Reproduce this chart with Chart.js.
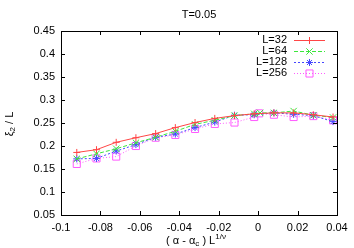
<!DOCTYPE html>
<html>
<head>
<meta charset="utf-8">
<script src="https://cdn.jsdelivr.net/npm/chart.js@4"></script>
<style>
  html, body { margin: 0; padding: 0; background: #fff; }
  #wrap { width: 354px; height: 248px; }
</style>
</head>
<body>
<div id="wrap"><canvas id="chart" width="354" height="248"></canvas></div>
<script>
// valeurs
const xL32 = [-0.092, -0.082, -0.072, -0.062, -0.052, -0.042, -0.032, -0.022, -0.012, -0.002, 0.008, 0.018, 0.028, 0.038];
const yL32 = [0.186, 0.192, 0.208, 0.218, 0.227, 0.240, 0.251, 0.260, 0.266, 0.270, 0.272, 0.272, 0.268, 0.263];
const xL64 = [-0.092, -0.082, -0.072, -0.062, -0.052, -0.042, -0.032, -0.022, -0.012, -0.002, 0.001, 0.008, 0.018, 0.028, 0.038];
const yL64 = [0.172, 0.183, 0.194, 0.207, 0.219, 0.232, 0.247, 0.256, 0.266, 0.270, 0.272, 0.272, 0.276, 0.267, 0.262];
const xL128 = [-0.092, -0.082, -0.072, -0.062, -0.052, -0.042, -0.032, -0.022, -0.012, -0.002, 0.008, 0.018, 0.028, 0.038];
const yL128 = [0.172, 0.173, 0.189, 0.203, 0.219, 0.226, 0.240, 0.252, 0.267, 0.268, 0.272, 0.269, 0.266, 0.253];
const xL256 = [-0.092, -0.082, -0.072, -0.062, -0.052, -0.042, -0.032, -0.022, -0.012, -0.002, 0.0005, 0.008, 0.018, 0.028, 0.038];
const yL256 = [0.161, 0.173, 0.177, 0.200, 0.218, 0.224, 0.237, 0.248, 0.251, 0.263, 0.271, 0.268, 0.263, 0.265, 0.256];

const seriesNames = ['L=32', 'L=64', 'L=128', 'L=256'];
const xTicks = [-0.1, -0.08, -0.06, -0.04, -0.02, 0, 0.02, 0.04];
const yTicks = [0.05, 0.1, 0.15, 0.2, 0.25, 0.3, 0.35, 0.4, 0.45];
const titleText = 'T=0.05';

const FONT = '"Liberation Sans", Arial, sans-serif';

function pts(xs, ys) {
  return xs.map((x, i) => ({ x: x, y: ys[i] }));
}

const styles = [
  { color: 'rgb(255,70,70)', dash: [], point: 'cross', radius: 3.5 },
  { color: 'rgb(60,230,60)', dash: [4, 2], point: 'crossRot', radius: 4.5 },
  { color: 'rgb(70,70,255)', dash: [2, 2], point: 'star', radius: 3.5 },
  { color: 'rgb(255,90,255)', dash: [1, 2], point: 'rect', radius: 5 }
];

const allData = [pts(xL32, yL32), pts(xL64, yL64), pts(xL128, yL128), pts(xL256, yL256)];

const datasets = allData.map((d, i) => ({
  label: seriesNames[i],
  data: d,
  borderColor: styles[i].color,
  backgroundColor: 'rgba(0,0,0,0)',
  borderWidth: 1,
  borderDash: styles[i].dash,
  pointStyle: styles[i].point,
  pointRadius: styles[i].radius,
  pointBorderColor: styles[i].color,
  pointBackgroundColor: 'rgba(0,0,0,0)',
  pointBorderWidth: 1,
  showLine: true,
  tension: 0
}));

// texte avec indices / exposants
function drawRich(ctx, parts, x, y, align) {
  let total = 0;
  parts.forEach(p => {
    ctx.font = (p.size || 11) + 'px ' + FONT;
    total += ctx.measureText(p.t).width;
  });
  let cx = align === 'center' ? x - total / 2 : x;
  parts.forEach(p => {
    ctx.font = (p.size || 11) + 'px ' + FONT;
    ctx.fillText(p.t, cx, y + (p.dy || 0));
    cx += ctx.measureText(p.t).width;
  });
}

const framePlugin = {
  id: 'frame',
  afterDraw(chart) {
    const ctx = chart.ctx;
    const a = chart.chartArea;
    const xs = chart.scales.x, ys = chart.scales.y;
    ctx.save();
    ctx.strokeStyle = '#000';
    ctx.lineWidth = 1;
    ctx.setLineDash([]);
    ctx.strokeRect(Math.round(a.left) + 0.5, Math.round(a.top) + 0.5,
      Math.round(a.right - a.left), Math.round(a.bottom - a.top));
    const tl = 4;
    ctx.beginPath();
    xTicks.forEach(v => {
      const px = Math.round(xs.getPixelForValue(v)) + 0.5;
      ctx.moveTo(px, a.bottom); ctx.lineTo(px, a.bottom - tl);
      ctx.moveTo(px, a.top); ctx.lineTo(px, a.top + tl);
    });
    yTicks.forEach(v => {
      const py = Math.round(ys.getPixelForValue(v)) + 0.5;
      ctx.moveTo(a.left, py); ctx.lineTo(a.left + tl, py);
      ctx.moveTo(a.right, py); ctx.lineTo(a.right - tl, py);
    });
    ctx.stroke();

    // titre
    ctx.fillStyle = '#000';
    ctx.font = '11px ' + FONT;
    ctx.textAlign = 'center';
    ctx.textBaseline = 'middle';
    ctx.fillText(titleText, (a.left + a.right) / 2, 15);

    // titre axe x
    ctx.textAlign = 'left';
    drawRich(ctx, [
      { t: '( \u03b1 - \u03b1' },
      { t: 'c', size: 8, dy: 3 },
      { t: ' ) L' },
      { t: '1/\u03bd', size: 8, dy: -4 }
    ], 196, 241, 'center');

    // titre axe y
    ctx.save();
    ctx.translate(10, 124);
    ctx.rotate(-Math.PI / 2);
    drawRich(ctx, [
      { t: '\u03be' },
      { t: '2', size: 8, dy: 3 },
      { t: ' / L' }
    ], 0, 0, 'center');
    ctx.restore();

    // légende façon gnuplot
    const rows = [40, 51, 62, 73];
    rows.forEach((ry, i) => {
      const s = styles[i];
      ctx.font = '11px ' + FONT;
      ctx.fillStyle = '#000';
      ctx.textAlign = 'right';
      ctx.textBaseline = 'middle';
      ctx.fillText(seriesNames[i], 287, ry);
      ctx.strokeStyle = s.color;
      ctx.lineWidth = 1;
      ctx.setLineDash(s.dash);
      ctx.beginPath();
      ctx.moveTo(294, ry + 0.5);
      ctx.lineTo(325, ry + 0.5);
      ctx.stroke();
      ctx.setLineDash([]);
      ctx.fillStyle = 'rgba(0,0,0,0)';
      Chart.helpers.drawPoint(ctx, {
        pointStyle: s.point, radius: s.radius, borderWidth: 1, rotation: 0
      }, 309.5, ry + 0.5);
    });
    ctx.restore();
  }
};

new Chart(document.getElementById('chart').getContext('2d'), {
  type: 'scatter',
  data: { datasets: datasets },
  options: {
    responsive: false,
    animation: false,
    devicePixelRatio: 1,
    layout: { padding: { top: 31, right: 17, left: 0, bottom: 0 } },
    plugins: {
      legend: { display: false },
      title: { display: false },
      tooltip: { enabled: false }
    },
    scales: {
      x: {
        type: 'linear',
        min: -0.1,
        max: 0.04,
        afterBuildTicks(scale) { scale.ticks = xTicks.map(v => ({ value: v })); },
        afterFit(scale) { scale.height = 33; },
        grid: { display: false, drawTicks: false },
        border: { display: false },
        ticks: {
          color: '#000',
          padding: 6,
          font: { family: FONT, size: 11 },
          maxRotation: 0,
          callback: v => String(Math.round(v * 100) / 100)
        }
      },
      y: {
        type: 'linear',
        min: 0.05,
        max: 0.45,
        afterBuildTicks(scale) { scale.ticks = yTicks.map(v => ({ value: v })); },
        afterFit(scale) { scale.width = 61; },
        grid: { display: false, drawTicks: false },
        border: { display: false },
        ticks: {
          color: '#000',
          padding: 6,
          font: { family: FONT, size: 11 },
          callback: v => String(Math.round(v * 100) / 100)
        }
      }
    }
  },
  plugins: [framePlugin]
});
</script>
</body>
</html>
